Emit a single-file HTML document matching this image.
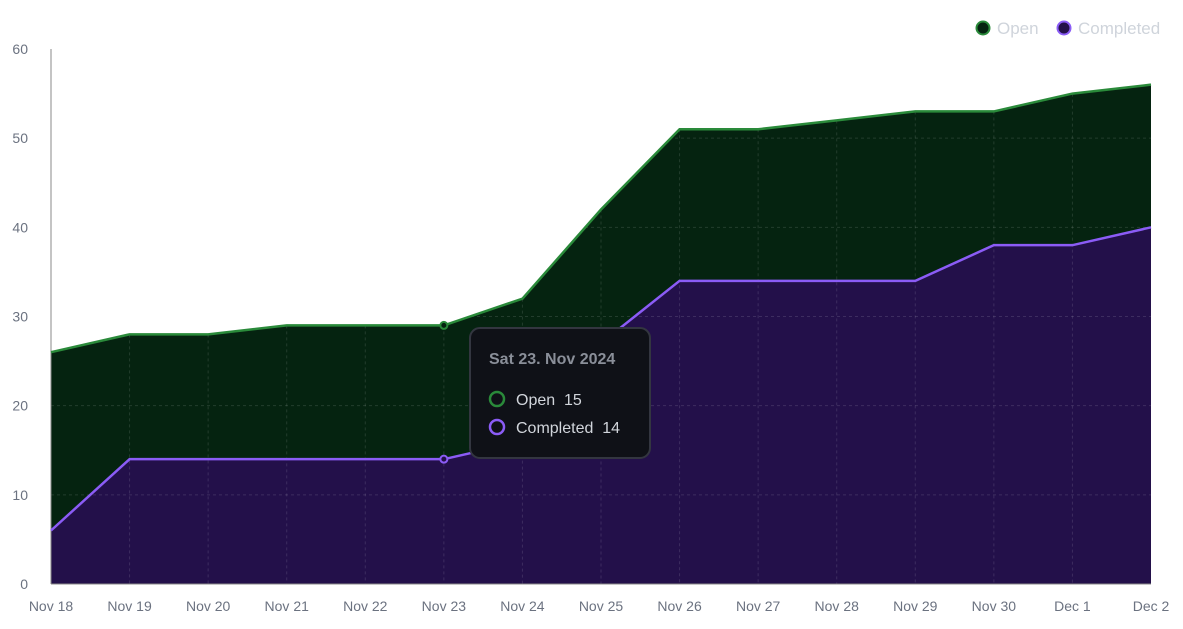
<!DOCTYPE html>
<html><head><meta charset="utf-8"><style>
body{margin:0;background:#fff;font-family:"Liberation Sans",sans-serif;}
svg{display:block}
text{white-space:pre}
</style></head><body>
<svg id="c" width="1183" height="629"></svg>
<script>
const categories=["Nov 18","Nov 19","Nov 20","Nov 21","Nov 22","Nov 23","Nov 24","Nov 25","Nov 26","Nov 27","Nov 28","Nov 29","Nov 30","Dec 1","Dec 2"];
const openValues=[20,14,14,15,15,15,16,15,17,17,18,19,15,17,16];
const completedValues=[6,14,14,14,14,14,16,27,34,34,34,34,38,38,40];
const yTicks=[0,10,20,30,40,50,60];
const NS="http://www.w3.org/2000/svg";
const svg=document.getElementById('c');
const L=51,R=1151,T=49,B=584;
const x=i=>L+(R-L)*i/(categories.length-1);
const y=v=>B-(B-T)*v/60;
function el(t,a,p){const e=document.createElementNS(NS,t);for(const k in a)e.setAttribute(k,a[k]);(p||svg).appendChild(e);return e;}
const totals=completedValues.map((c,i)=>c+openValues[i]);
const topPts=totals.map((v,i)=>x(i)+","+y(v));
const compPts=completedValues.map((v,i)=>x(i)+","+y(v));
let a=el('polygon',{points:topPts.join(' ')+' '+compPts.slice().reverse().join(' '),fill:'#052310'});

a=el('polygon',{points:compPts.join(' ')+` ${R},${B} ${L},${B}`,fill:'#23104a'});

categories.forEach((c,i)=>{if(i>0&&i<categories.length-1){let g=el('line',{x1:x(i),x2:x(i),y1:y(totals[i]),y2:B,stroke:'rgba(255,255,255,0.12)','stroke-dasharray':'3,3'});}
 let t=el('text',{x:x(i),y:611,'text-anchor':'middle','font-size':14,fill:'#6b7280'});t.textContent=c;
 });
yTicks.forEach(v=>{if(v>0){let g=el('line',{x1:L,x2:R,y1:y(v),y2:y(v),stroke:'rgba(255,255,255,0.12)','stroke-dasharray':'3,3'});}
 let t=el('text',{x:28,y:y(v)+5,'text-anchor':'end','font-size':14,fill:'#6b7280'});t.textContent=v;
 });
let ax=el('line',{x1:L,x2:L,y1:T,y2:B,stroke:'#888'});
ax=el('line',{x1:L,x2:R,y1:B,y2:B,stroke:'#888'});
let ln=el('polyline',{points:topPts.join(' '),fill:'none',stroke:'#2a8a3a','stroke-width':2.5});

ln=el('polyline',{points:compPts.join(' '),fill:'none',stroke:'#8b5cf6','stroke-width':2.5});

const hi=5;
let m=el('circle',{cx:x(hi),cy:y(totals[hi]),r:3.5,fill:'#052310',stroke:'#2a8a3a','stroke-width':2});

m=el('circle',{cx:x(hi),cy:y(completedValues[hi]),r:3.5,fill:'#23104a',stroke:'#8b5cf6','stroke-width':2});

const tg=el('g',{});
el('rect',{x:470,y:328,width:180,height:130,rx:10,fill:'#0f1117',stroke:'#333640','stroke-width':2},tg);
let tt=el('text',{x:489,y:364,'font-size':16,'font-weight':'bold',fill:'#8a8f99'},tg);tt.textContent='Sat 23. Nov 2024';
el('circle',{cx:497,cy:399,r:7,fill:'none',stroke:'#2a8a3a','stroke-width':2.5},tg);
tt=el('text',{x:516,y:405,'font-size':16,fill:'#d1d5db'},tg);tt.textContent='Open  '+openValues[hi];
el('circle',{cx:497,cy:427,r:7,fill:'none',stroke:'#8b5cf6','stroke-width':2.5},tg);
tt=el('text',{x:516,y:433,'font-size':16,fill:'#d1d5db'},tg);tt.textContent='Completed  '+completedValues[hi];
let lg=el('g',{});
el('circle',{cx:983,cy:28,r:6.5,fill:'#052310',stroke:'#2a8a3a','stroke-width':2},lg);
tt=el('text',{x:997,y:34,'font-size':17,fill:'#cfd4db'},lg);tt.textContent='Open';
lg=el('g',{});
el('circle',{cx:1064,cy:28,r:6.5,fill:'#23104a',stroke:'#8b5cf6','stroke-width':2},lg);
tt=el('text',{x:1078,y:34,'font-size':17,fill:'#cfd4db'},lg);tt.textContent='Completed';
</script>
</body></html>
